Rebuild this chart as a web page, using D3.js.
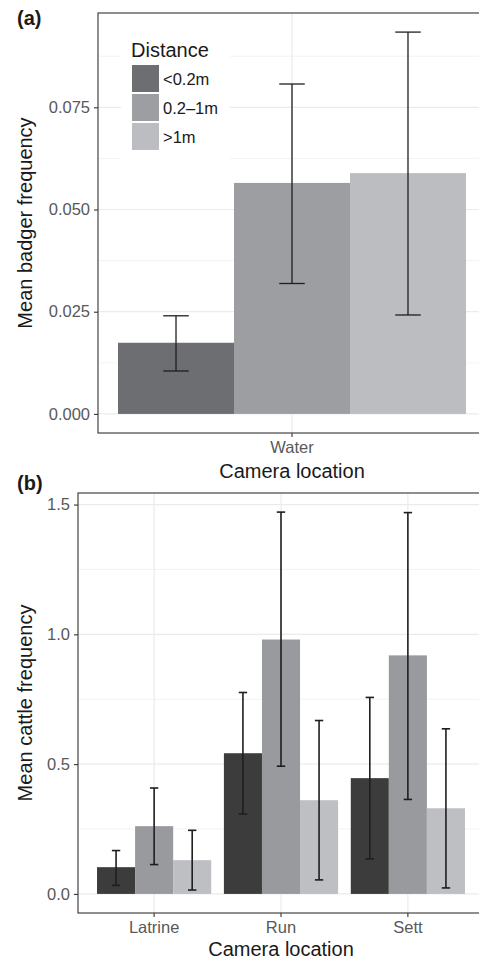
<!DOCTYPE html>
<html>
<head>
<meta charset="utf-8">
<script src="https://cdn.jsdelivr.net/npm/d3@7"></script>
<style>
  body { margin: 0; background: #fff; }
  text { font-family: "Liberation Sans", Arial, sans-serif; }
</style>
</head>
<body>
<div id="chart"></div>
<script>
// --------------------------------------------------
// data

var distances = ["<0.2m", "0.2\u20131m", ">1m"];

// (a) badgers
var badgerLocations = ["Water"];
var badgerMean  = [[0.0174, 0.0565, 0.0589]];
var badgerLower = [[0.0105, 0.0319, 0.0242]];
var badgerUpper = [[0.0240, 0.0807, 0.0934]];
var badgerTicks = [0, 0.025, 0.05, 0.075];
var badgerMinor = [0.0125, 0.0375, 0.0625, 0.0875];

// (b) cattle
var cattleLocations = ["Latrine", "Run", "Sett"];
var cattleMean  = [[0.103, 0.261, 0.130], [0.542, 0.980, 0.361], [0.446, 0.919, 0.330]];
var cattleLower = [[0.033, 0.113, 0.015], [0.308, 0.492, 0.054], [0.135, 0.364, 0.023]];
var cattleUpper = [[0.167, 0.408, 0.245], [0.776, 1.471, 0.668], [0.757, 1.469, 0.636]];
var cattleTicks = [0, 0.5, 1.0, 1.5];
var cattleMinor = [0.25, 0.75, 1.25];

var badgerColors = ["#6d6e72", "#9d9ea2", "#bcbdc1"];
var cattleColors = ["#3c3c3c", "#999a9e", "#bebfc3"];

var svg = d3.select("#chart")
    .append("svg")
    .attr("width", 479)
    .attr("height", 961);

// --------------------------------------------------
// one panel

function drawPanel(p) {
    var rows = [];
    p.locations.forEach(function(loc, i) {
        distances.forEach(function(dist, j) {
            rows.push({ loc: loc, dist: dist, j: j,
                mean: p.mean[i][j], lo: p.lower[i][j], hi: p.upper[i][j] });
        });
    });

    var maxHi = d3.max(rows, function(d) { return d.hi; });
    var y = d3.scaleLinear()
        .domain([-0.05 * maxHi, maxHi * 1.05])
        .range([p.bottom, p.top]);

    var x = d3.scaleBand()
        .domain(p.locations)
        .range([p.left, p.right])
        .paddingInner(p.padInner)
        .paddingOuter(p.padOuter);

    var xSub = d3.scaleBand()
        .domain(distances)
        .range([0, x.bandwidth()]);

    var g = svg.append("g");

    // grid
    g.selectAll(".minor")
        .data(p.minor)
        .enter()
        .append("line")
        .attr("x1", p.left).attr("x2", p.right)
        .attr("y1", function(d) { return y(d); })
        .attr("y2", function(d) { return y(d); })
        .attr("stroke", "#ebebeb")
        .attr("stroke-width", 0.6);

    g.selectAll(".major")
        .data(p.ticks)
        .enter()
        .append("line")
        .attr("x1", p.left).attr("x2", p.right)
        .attr("y1", function(d) { return y(d); })
        .attr("y2", function(d) { return y(d); })
        .attr("stroke", "#ebebeb")
        .attr("stroke-width", 1.2);

    g.selectAll(".vgrid")
        .data(p.locations)
        .enter()
        .append("line")
        .attr("x1", function(d) { return x(d) + x.bandwidth() / 2; })
        .attr("x2", function(d) { return x(d) + x.bandwidth() / 2; })
        .attr("y1", p.top).attr("y2", p.bottom)
        .attr("stroke", "#ebebeb")
        .attr("stroke-width", 1.2);

    // bars
    g.selectAll(".bar")
        .data(rows)
        .enter()
        .append("rect")
        .attr("x", function(d) { return x(d.loc) + xSub(d.dist); })
        .attr("y", function(d) { return y(d.mean); })
        .attr("width", xSub.bandwidth())
        .attr("height", function(d) { return y(0) - y(d.mean); })
        .attr("fill", function(d) { return p.colors[d.j]; });

    // error bars
    var cap = xSub.bandwidth() * 0.22;
    var eb = g.selectAll(".err")
        .data(rows)
        .enter()
        .append("g")
        .attr("stroke", "#1e1e1e")
        .attr("stroke-width", p.errWidth)
        .attr("transform", function(d) {
            return "translate(" + (x(d.loc) + xSub(d.dist) + xSub.bandwidth() / 2) + ",0)";
        });
    eb.append("line")
        .attr("x1", 0).attr("x2", 0)
        .attr("y1", function(d) { return y(d.lo); })
        .attr("y2", function(d) { return y(d.hi); });
    eb.append("line")
        .attr("x1", -cap / 2).attr("x2", cap / 2)
        .attr("y1", function(d) { return y(d.lo); })
        .attr("y2", function(d) { return y(d.lo); });
    eb.append("line")
        .attr("x1", -cap / 2).attr("x2", cap / 2)
        .attr("y1", function(d) { return y(d.hi); })
        .attr("y2", function(d) { return y(d.hi); });

    // panel border
    g.append("rect")
        .attr("x", p.left).attr("y", p.top)
        .attr("width", p.right - p.left)
        .attr("height", p.bottom - p.top)
        .attr("fill", "none")
        .attr("stroke", "#333333")
        .attr("stroke-width", 1.1);

    // y axis
    var yAxisCall = d3.axisLeft(y)
        .tickValues(p.ticks)
        .tickSize(4)
        .tickPadding(4)
        .tickFormat(d3.format(p.fmt));
    var ya = g.append("g")
        .attr("transform", "translate(" + p.left + ",0)")
        .call(yAxisCall);
    ya.select(".domain").remove();
    ya.selectAll("line").attr("stroke", "#333333").attr("stroke-width", 1.1);
    ya.selectAll("text")
        .attr("fill", "#595959")
        .attr("font-size", "16.5px")
        .style("font-family", "'Liberation Sans', Arial, sans-serif");

    // x axis
    var xAxisCall = d3.axisBottom(x).tickSize(4).tickPadding(4);
    var xa = g.append("g")
        .attr("transform", "translate(0," + p.bottom + ")")
        .call(xAxisCall);
    xa.select(".domain").remove();
    xa.selectAll("line").attr("stroke", "#333333").attr("stroke-width", 1.1);
    xa.selectAll("text")
        .attr("fill", "#595959")
        .attr("font-size", "16.5px")
        .style("font-family", "'Liberation Sans', Arial, sans-serif");

    // labels
    g.append("text")
        .attr("x", 17)
        .attr("y", p.tagY)
        .attr("font-size", "20px")
        .attr("font-weight", "bold")
        .attr("fill", "#1a1a1a")
        .text(p.tag);

    g.append("text")
        .attr("x", x(p.locations[0]) + (x(p.locations[p.locations.length - 1]) + x.bandwidth() - x(p.locations[0])) / 2)
        .attr("y", p.xTitleY)
        .attr("font-size", "20px")
        .attr("text-anchor", "middle")
        .attr("fill", "#1a1a1a")
        .text("Camera location");

    g.append("text")
        .attr("transform", "translate(32," + ((p.top + p.bottom) / 2) + ") rotate(-90)")
        .attr("font-size", "20px")
        .attr("text-anchor", "middle")
        .attr("fill", "#1a1a1a")
        .text(p.yTitle);

    return g;
}

var ga = drawPanel({
    tag: "(a)", tagY: 25,
    locations: badgerLocations, mean: badgerMean, lower: badgerLower, upper: badgerUpper,
    ticks: badgerTicks, minor: badgerMinor, fmt: ".3f",
    colors: badgerColors, errWidth: 1.3,
    left: 98, right: 486, top: 13, bottom: 433,
    padInner: 0, padOuter: 0.0575,
    xTitleY: 478, yTitle: "Mean badger frequency"
});

drawPanel({
    tag: "(b)", tagY: 490,
    locations: cattleLocations, mean: cattleMean, lower: cattleLower, upper: cattleUpper,
    ticks: cattleTicks, minor: cattleMinor, fmt: ".1f",
    colors: cattleColors, errWidth: 1.6,
    left: 78, right: 484, top: 493, bottom: 913,
    padInner: 0.1, padOuter: 0.15,
    xTitleY: 956, yTitle: "Mean cattle frequency"
});

// legend inside panel (a)
var leg = ga.append("g");
leg.append("rect")
    .attr("x", 121).attr("y", 30)
    .attr("width", 109).attr("height", 133)
    .attr("fill", "#ffffff");
leg.append("text")
    .attr("x", 131).attr("y", 57)
    .attr("font-size", "20px")
    .attr("fill", "#1a1a1a")
    .text("Distance");
var item = leg.selectAll(".item")
    .data(distances)
    .enter()
    .append("g")
    .attr("transform", function(d, i) { return "translate(132," + (65 + i * 29) + ")"; });
item.append("rect")
    .attr("width", 27).attr("height", 27)
    .attr("fill", function(d, i) { return badgerColors[i]; });
item.append("text")
    .attr("x", 31).attr("y", 20)
    .attr("font-size", "16.5px")
    .attr("fill", "#1a1a1a")
    .text(function(d) { return d; });
</script>
</body>
</html>
